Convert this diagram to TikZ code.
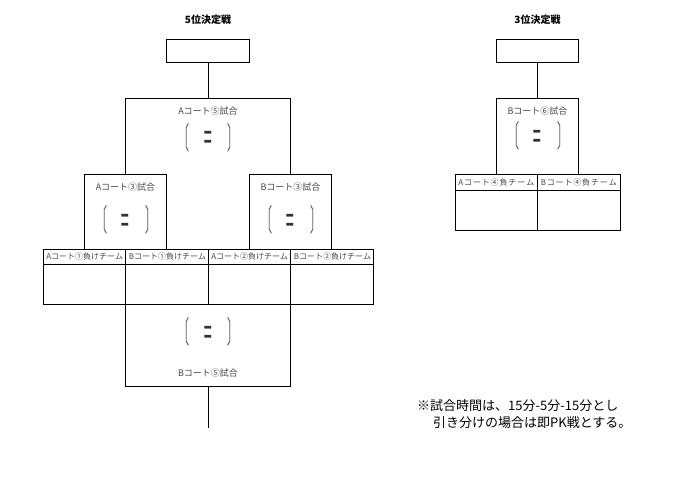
\documentclass[tikz,border=0pt]{standalone}
\usepackage{fontspec}
\setmainfont{Liberation Serif}
\newfontfamily\jp{Noto Sans CJK JP}
\newcommand\mytall[1]{\scalebox{1}[2.8]{#1}}
\newcommand\eqmark{\scalebox{0.95}[4.0]{\raisebox{-0.2em}[0.36em][0pt]{＝}}}
\tikzset{
  ln/.style={line width=0.9pt},
  cell/.style={draw, line width=0.9pt, inner sep=0pt, minimum width=82.5pt},
  frame/.style={draw=none, inner sep=0pt, minimum width=82.5pt},
  matchlbl/.style={font=\jp\fontsize{9}{9}\selectfont, text=black!72, inner sep=0pt},
  teamlbl/.style={font=\jp\fontsize{8}{8}\selectfont, text=black!72, inner sep=0pt},
  ttl/.style={font=\jp\bfseries\fontsize{10}{10}\selectfont, inner sep=0pt},
  notelbl/.style={font=\jp\fontsize{13}{13}\selectfont, inner sep=0pt, anchor=west},
  brk/.style={font=\jp\fontsize{11}{11}\selectfont, text=black!65, inner sep=0pt},
  eqs/.style={font=\jp\fontsize{10}{10}\selectfont, text=black!80, inner sep=0pt}
}
\begin{document}
\begin{tikzpicture}[x=1pt,y=-1pt]
\useasboundingbox (0,0) rectangle (695,491);

% ---------------- left: 5th place ----------------
\node[ttl] (title5) at (208,19.5) {5位決定戦};
\node[cell, minimum height=23pt] (t5) at (208,50.5) {};
\node[frame, minimum width=165pt, minimum height=76.5pt] (a5) at (208,136.75) {};
\node[frame, minimum height=74pt] (a3) at (125.5,212) {};
\node[frame, minimum height=74pt] (b3) at (290.5,212) {};

\node[cell, minimum height=15pt] (tl1) at (84.25,256.5) {};
\node[cell, minimum height=15pt] (tl2) at (166.75,256.5) {};
\node[cell, minimum height=15pt] (tl3) at (249.25,256.5) {};
\node[cell, minimum height=15pt] (tl4) at (331.75,256.5) {};
\node[cell, minimum height=40pt] (te1) at (84.25,284) {};
\node[cell, minimum height=40pt] (te2) at (166.75,284) {};
\node[cell, minimum height=40pt] (te3) at (249.25,284) {};
\node[cell, minimum height=40pt] (te4) at (331.75,284) {};

\node[cell, minimum width=165pt, minimum height=82pt] (b5) at (208,345) {};
\coordinate (end5) at (208,428);

\draw[ln] (t5) -- (a5);
\draw[ln] (a3.north) |- (a5.north) -| (b3.north);
\draw[ln] (tl1.north) |- (a3.north) -| (tl2.north);
\draw[ln] (tl3.north) |- (b3.north) -| (tl4.north);
\draw[ln] (b5) -- (end5);

% labels
\node[matchlbl] (la5) at (208,111) {Aコート⑤試合};
\node[brk] (a5l) at (184,137.5) {\mytall{〔}};
\node[eqs] (a5e) at (208,137.5) {\eqmark};
\node[brk] (a5r) at (233,137.5) {\mytall{〕}};

\node[matchlbl] (la3) at (125.5,187) {Aコート③試合};
\node[brk] (a3l) at (101.5,220) {\mytall{〔}};
\node[eqs] (a3e) at (125.5,220) {\eqmark};
\node[brk] (a3r) at (150.5,220) {\mytall{〕}};

\node[matchlbl] (lb3) at (290.5,187) {Bコート③試合};
\node[brk] (b3l) at (266.5,220) {\mytall{〔}};
\node[eqs] (b3e) at (290.5,220) {\eqmark};
\node[brk] (b3r) at (315.5,220) {\mytall{〕}};

\node[teamlbl] (n1) at (tl1) {\makebox[76pt][s]{A\hfil コ\hfil ー\hfil ト\hfil ①\hfil 負\hfil け\hfil チ\hfil ー\hfil ム}};
\node[teamlbl] (n2) at (tl2) {\makebox[76pt][s]{B\hfil コ\hfil ー\hfil ト\hfil ①\hfil 負\hfil け\hfil チ\hfil ー\hfil ム}};
\node[teamlbl] (n3) at (tl3) {\makebox[76pt][s]{A\hfil コ\hfil ー\hfil ト\hfil ②\hfil 負\hfil け\hfil チ\hfil ー\hfil ム}};
\node[teamlbl] (n4) at (tl4) {\makebox[76pt][s]{B\hfil コ\hfil ー\hfil ト\hfil ②\hfil 負\hfil け\hfil チ\hfil ー\hfil ム}};

\node[brk] (b5l) at (184,332) {\mytall{〔}};
\node[eqs] (b5e) at (208,332) {\eqmark};
\node[brk] (b5r) at (233,332) {\mytall{〕}};
\node[matchlbl] (lb5) at (208,373) {Bコート⑤試合};

% ---------------- right: 3rd place ----------------
\node[ttl] (title3) at (537.5,20) {3位決定戦};
\node[cell, minimum height=23pt] (t3) at (537.5,50.5) {};
\node[frame, minimum height=75.5pt] (b6) at (537.5,136.25) {};
\node[cell, minimum height=16pt] (tr1) at (496.25,182) {};
\node[cell, minimum height=16pt] (tr2) at (578.75,182) {};
\node[cell, minimum height=40pt] (tq1) at (496.25,210) {};
\node[cell, minimum height=40pt] (tq2) at (578.75,210) {};

\draw[ln] (t3) -- (b6);
\draw[ln] (tr1.north) |- (b6.north) -| (tr2.north);

\node[matchlbl] (lb6) at (537.5,111) {Bコート⑥試合};
\node[brk] (b6l) at (513.5,136) {\mytall{〔}};
\node[eqs] (b6e) at (537.5,136) {\eqmark};
\node[brk] (b6r) at (562.5,136) {\mytall{〕}};

\node[teamlbl] (m1) at (tr1) {\makebox[76pt][s]{A\hfil コ\hfil ー\hfil ト\hfil ④\hfil 負\hfil チ\hfil ー\hfil ム}};
\node[teamlbl] (m2) at (tr2) {\makebox[76pt][s]{B\hfil コ\hfil ー\hfil ト\hfil ④\hfil 負\hfil チ\hfil ー\hfil ム}};

% ---------------- note ----------------
\node[notelbl] (note1) at (417,406) {※試合時間は、15分-5分-15分とし};
\node[notelbl] (note2) at (433,423) {引き分けの場合は即PK戦とする。};
\end{tikzpicture}
\end{document}
